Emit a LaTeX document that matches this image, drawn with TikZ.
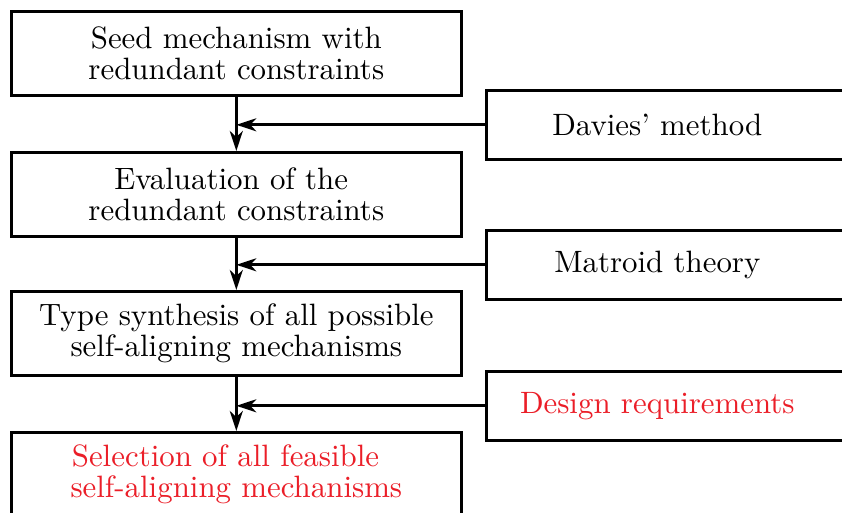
\documentclass[tikz,border=0pt]{standalone}
\usetikzlibrary{arrows.meta}
\definecolor{myred}{RGB}{235,30,40}
\begin{document}
\begin{tikzpicture}[x=0.3238pt,y=-0.3238pt,
  lbox/.style={draw,line width=0.85pt,rectangle,anchor=north west,minimum width=450*0.3238pt,minimum height=84*0.3238pt,align=center,font=\fontsize{10}{10.3}\selectfont,inner sep=0pt},
  rbox/.style={draw,line width=0.85pt,rectangle,anchor=north west,minimum width=380*0.3238pt,minimum height=69*0.3238pt,inner sep=0pt},
  rtext/.style={font=\fontsize{10}{10.3}\selectfont},
  conn/.style={line width=0.85pt,-{Stealth[length=20*0.3238pt,width=13*0.3238pt,inset=6*0.3238pt]}}]
\clip (0,0) rectangle (842,513);
\fill[white] (0,0) rectangle (842,513);
\node[lbox] (a) at (10,10) {Seed mechanism with\\redundant constraints};
\node[lbox] (b) at (10,151) {Evaluation of the\hspace*{3.3pt}\\redundant constraints};
\node[lbox] (c) at (10,290) {Type synthesis of all possible\\self-aligning mechanisms};
\node[lbox,text=myred] (d) at (10,431) {Selection of all feasible\hspace*{7pt}\\self-aligning mechanisms};
\node[rbox,label={[name=r1t,rtext,xshift=-19*0.3238pt]center:Davies' method}] (r1) at (485,89) {};
\node[rbox,label={[name=r2t,rtext,xshift=-19*0.3238pt]center:Matroid theory}] (r2) at (485,229) {};
\node[rbox,label={[name=r3t,rtext,xshift=-19*0.3238pt,text=myred]center:Design requirements}] (r3) at (485,370) {};
\draw[conn] (a.south) -- (b.north);
\draw[conn] (b.south) -- (c.north);
\draw[conn] (c.south) -- (d.north);
\draw[conn] (r1.west) -- (a.south |- r1.west);
\draw[conn] (r2.west) -- (b.south |- r2.west);
\draw[conn] (r3.west) -- (c.south |- r3.west);
\end{tikzpicture}
\end{document}
